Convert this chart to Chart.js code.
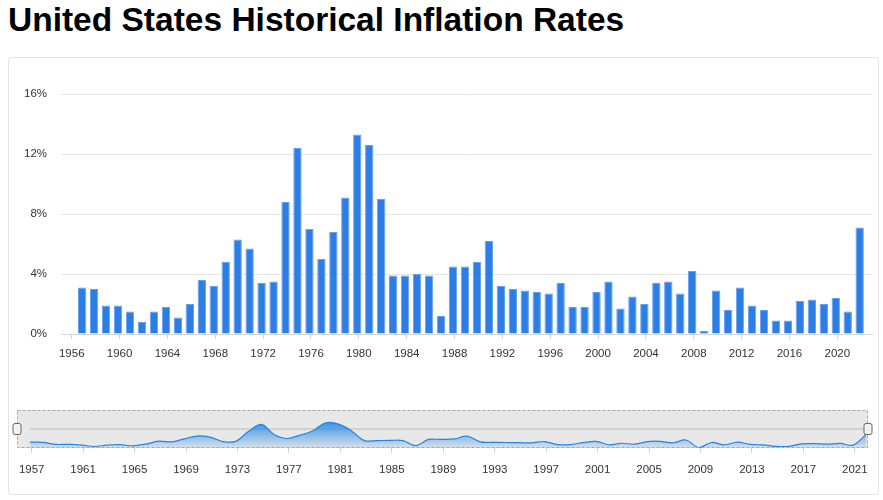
<!DOCTYPE html>
<html>
<head>
<meta charset="utf-8">
<title>United States Historical Inflation Rates</title>
<script src="https://cdn.jsdelivr.net/npm/chart.js"></script>
<style>
  body {
    margin: 0;
    width: 883px;
    height: 500px;
    position: relative;
    overflow: hidden;
    background: #fff;
    font-family: "Liberation Sans", Arial, sans-serif;
  }
  h1 {
    position: absolute;
    left: 8px;
    top: 1px;
    margin: 0;
    font-size: 33.5px;
    line-height: 1.15;
    font-weight: bold;
    color: #000;
    white-space: nowrap;
  }
  .card {
    position: absolute;
    left: 8px;
    top: 57px;
    width: 869px;
    height: 436px;
    border: 1px solid #e3e3e3;
    border-radius: 4px;
  }
  #mainChart { position: absolute; left: 0; top: 0; }
  #navChart { position: absolute; left: 0; top: 395px; }
</style>
</head>
<body>
<h1>United States Historical Inflation Rates</h1>
<div class="card"></div>
<canvas id="mainChart" width="883" height="390"></canvas>
<canvas id="navChart" width="883" height="105"></canvas>

<script>
// inflation by year (%)
const years = [
  1956, 1957, 1958, 1959, 1960, 1961, 1962, 1963, 1964, 1965,
  1966, 1967, 1968, 1969, 1970, 1971, 1972, 1973, 1974, 1975,
  1976, 1977, 1978, 1979, 1980, 1981, 1982, 1983, 1984, 1985,
  1986, 1987, 1988, 1989, 1990, 1991, 1992, 1993, 1994, 1995,
  1996, 1997, 1998, 1999, 2000, 2001, 2002, 2003, 2004, 2005,
  2006, 2007, 2008, 2009, 2010, 2011, 2012, 2013, 2014, 2015,
  2016, 2017, 2018, 2019, 2020, 2021
];
const inflation = [
  3.1, 3.0, 1.9, 1.9, 1.5, 0.8, 1.5, 1.8, 1.1, 2.0,
  3.6, 3.2, 4.8, 6.3, 5.7, 3.4, 3.5, 8.8, 12.4, 7.0,
  5.0, 6.8, 9.1, 13.3, 12.6, 9.0, 3.9, 3.9, 4.0, 3.9,
  1.2, 4.5, 4.5, 4.8, 6.2, 3.2, 3.0, 2.9, 2.8, 2.7,
  3.4, 1.8, 1.8, 2.8, 3.5, 1.7, 2.5, 2.0, 3.4, 3.5,
  2.7, 4.2, 0.2, 2.9, 1.6, 3.1, 1.9, 1.6, 0.9, 0.9,
  2.2, 2.3, 2.0, 2.4, 1.5, 7.1
];
const yTicks = [0, 4, 8, 12, 16];
const mainTickYears = [1956, 1960, 1964, 1968, 1972, 1976, 1980, 1984, 1988,
  1992, 1996, 2000, 2004, 2008, 2012, 2016, 2020];
const navTickYears = [1957, 1961, 1965, 1969, 1973, 1977, 1981, 1985, 1989,
  1993, 1997, 2001, 2005, 2009, 2013, 2017, 2021];

const yearEnd = 0.87; // each value is dated near the end of its year
const points = years.map((y, i) => ({ x: y + yearEnd, y: inflation[i] }));

const labelFont = { family: "Liberation Sans, Arial, sans-serif", size: 11.5 };
const labelColor = "#333";

// main column chart
new Chart("mainChart", {
  type: "bar",
  data: {
    datasets: [{
      data: points,
      backgroundColor: "#2d7de6",
      borderColor: "#64a2ef",
      borderWidth: 1,
      categoryPercentage: 1,
      barPercentage: 0.7
    }]
  },
  options: {
    responsive: false,
    animation: false,
    layout: { padding: { left: 0, right: 11, top: 94, bottom: 26 } },
    plugins: { legend: { display: false }, tooltip: { enabled: false } },
    scales: {
      x: {
        type: "linear",
        offset: false,
        min: 1955.1,
        max: 2022.9,
        afterBuildTicks: (s) => { s.ticks = mainTickYears.map(v => ({ value: v })); },
        afterFit: (s) => { s.height = 30; },
        grid: { offset: false, drawOnChartArea: false, drawTicks: true, tickLength: 5, tickColor: "#d6d6d6" },
        border: { display: true, color: "#d6d6d6" },
        ticks: { font: labelFont, color: labelColor, padding: 8, maxRotation: 0, autoSkip: false,
          callback: (v) => String(v) }
      },
      y: {
        min: 0,
        max: 16,
        afterBuildTicks: (s) => { s.ticks = yTicks.map(v => ({ value: v })); },
        afterFit: (s) => { s.width = 61; },
        grid: { color: "#e6e6e6", drawTicks: false },
        border: { display: false },
        ticks: { font: labelFont, color: labelColor, padding: 14, callback: (v) => v + "%" }
      }
    }
  }
});

// navigator: grey band, dashed outline and the two handles
const navFrame = {
  id: "navFrame",
  beforeDatasetsDraw(chart) {
    const { ctx, chartArea: a } = chart;
    const left = a.left - 13, right = a.right + 2;
    ctx.save();
    ctx.fillStyle = "#e8e8e8";
    ctx.fillRect(left, a.top, right - left, a.bottom - a.top);
    ctx.strokeStyle = "#d2d2d2";
    ctx.lineWidth = 2;
    ctx.beginPath();
    ctx.moveTo(a.left, (a.top + a.bottom) / 2);
    ctx.lineTo(right, (a.top + a.bottom) / 2);
    ctx.stroke();
    ctx.restore();
  },
  afterDraw(chart) {
    const { ctx, chartArea: a } = chart;
    const left = a.left - 13, right = a.right + 2;
    const mid = (a.top + a.bottom) / 2;
    ctx.save();
    ctx.strokeStyle = "#a8a8a8";
    ctx.lineWidth = 1;
    ctx.setLineDash([3, 2]);
    ctx.strokeRect(left + 0.5, a.top + 0.5, right - left - 1, a.bottom - a.top - 1);
    ctx.setLineDash([]);
    [left, right].forEach((x) => {
      ctx.beginPath();
      ctx.roundRect(x - 4, mid - 5.5, 8, 11, 2);
      ctx.fillStyle = "#f2f2f2";
      ctx.fill();
      ctx.strokeStyle = "#666";
      ctx.stroke();
    });
    ctx.restore();
  }
};

new Chart("navChart", {
  type: "line",
  data: {
    datasets: [{
      data: points,
      borderColor: "#1f86e6",
      borderWidth: 1.2,
      pointRadius: 0,
      tension: 0.35,
      fill: "origin",
      backgroundColor: (c) => {
        const chart = c.chart;
        const a = chart.chartArea;
        if (!a) return "rgba(31,134,230,0.4)";
        const top = chart.scales.y.getPixelForValue(Math.max(...inflation));
        const g = chart.ctx.createLinearGradient(0, top, 0, a.bottom);
        g.addColorStop(0, "rgba(31,134,230,0.85)");
        g.addColorStop(1, "rgba(31,134,230,0.08)");
        return g;
      }
    }]
  },
  options: {
    responsive: false,
    animation: false,
    layout: { padding: { left: 30, right: 17, top: 15, bottom: 22 } },
    plugins: { legend: { display: false }, tooltip: { enabled: false } },
    scales: {
      x: {
        type: "linear",
        min: years[0] + yearEnd,
        max: years[years.length - 1] + yearEnd,
        afterBuildTicks: (s) => { s.ticks = navTickYears.map(v => ({ value: v })); },
        afterFit: (s) => { s.height = 30; },
        grid: { drawOnChartArea: false, drawTicks: true, tickLength: 5, tickColor: "#d6d6d6" },
        border: { display: false },
        ticks: { font: labelFont, color: labelColor, padding: 10, maxRotation: 0, autoSkip: false,
          callback: (v) => String(v) }
      },
      y: { display: false, min: 0, max: 20 }
    }
  },
  plugins: [navFrame]
});
</script>
</body>
</html>
